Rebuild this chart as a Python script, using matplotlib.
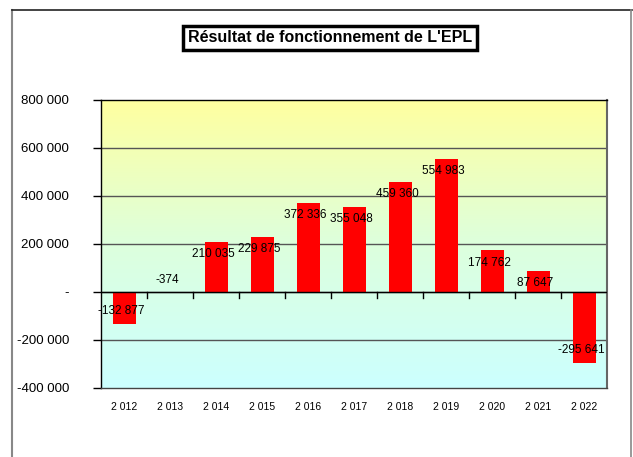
import numpy as np
import matplotlib.pyplot as plt
from matplotlib.lines import Line2D
from matplotlib.colors import LinearSegmentedColormap
import matplotlib.transforms as mtransforms

plt.rcParams['font.family'] = ['Liberation Sans', 'DejaVu Sans']

# données
years = ["2 012", "2 013", "2 014", "2 015", "2 016", "2 017", "2 018", "2 019", "2 020", "2 021", "2 022"]
values = [-132877, -374, 210035, 229875, 372336, 355048, 459360, 554983, 174762, 87647, -295641]
value_labels = ["-132 877", "-374", "210 035", "229 875", "372 336", "355 048", "459 360", "554 983", "174 762", "87 647", "-295 641"]
y_ticks = [-400000, -200000, 0, 200000, 400000, 600000, 800000]
y_tick_labels = ["-400 000", "-200 000", "-", "200 000", "400 000", "600 000", "800 000"]

fig = plt.figure(figsize=(6.33, 4.57), dpi=100)
ax = fig.add_axes([101 / 633, 69 / 457, 506 / 633, 288 / 457])

x = np.arange(len(years))
ax.set_xlim(-0.5, len(years) - 0.5)
ax.set_ylim(-400000, 800000)

# fond en dégradé jaune -> cyan
cmap = LinearSegmentedColormap.from_list("fond", ["#ccffff", "#ddffdd", "#ffffa0"])
grad = np.linspace(0, 1, 256).reshape(-1, 1)
ax.imshow(grad, cmap=cmap, aspect="auto", origin="lower",
          extent=[-0.5, len(years) - 0.5, -400000, 800000], zorder=0)

# grille
for t in y_ticks[1:-1]:
    ax.axhline(t, color="#555555", lw=1.0, zorder=1)

ax.bar(x, values, width=0.5, color="#ff0000", zorder=2)

# ligne du zéro + graduations des catégories
ax.axhline(0, color="black", lw=1.0, zorder=3)
trans = mtransforms.blended_transform_factory(ax.transData, ax.transAxes)
for b in np.arange(0.5, len(years) - 0.5, 1.0):
    ax.plot([b, b], [1 / 3 - 0.02, 1 / 3], color="black", lw=1.0, transform=trans, zorder=3)

# étiquettes de valeurs
for xi, v, lab in zip(x, values, value_labels):
    off = -9 if v > 0 else 9
    ax.annotate(lab, (xi, v), xytext=(-2, off), textcoords="offset points",
                ha="center", va="center", fontsize=8.5, zorder=4)

ax.set_yticks(y_ticks)
ax.set_yticklabels(y_tick_labels, fontsize=9.5)
ax.set_xticks(x)
ax.set_xticklabels(years, fontsize=7.5)
ax.tick_params(axis="x", length=0, pad=10)
ax.tick_params(axis="y", length=6, width=1, pad=17, direction="out")
for lab in ax.get_yticklabels():
    lab.set_horizontalalignment("right")

for s in ax.spines.values():
    s.set_color("black")
    s.set_linewidth(1.0)
ax.spines["right"].set_color("#666666")
ax.spines["right"].set_linewidth(1.5)
ax.spines["bottom"].set_color("#444444")

# titre encadré
fig.text(330 / 633, 1 - 38 / 457, "Résultat de fonctionnement de L'EPL",
         ha="center", va="center", fontsize=11.5, fontweight="bold",
         bbox=dict(boxstyle="square,pad=0.3", fc="white", ec="black", lw=2.5))

# cadre extérieur
fig.add_artist(Line2D([12 / 633, 12 / 633], [0, 1 - 10 / 457], color="#888888", lw=1.5, transform=fig.transFigure))
fig.add_artist(Line2D([12 / 633, 632 / 633], [1 - 10 / 457, 1 - 10 / 457], color="#222222", lw=1.2, transform=fig.transFigure))
fig.add_artist(Line2D([631 / 633, 631 / 633], [0, 1 - 10 / 457], color="#888888", lw=1.2, transform=fig.transFigure))

fig.savefig("out.png", dpi=100)
